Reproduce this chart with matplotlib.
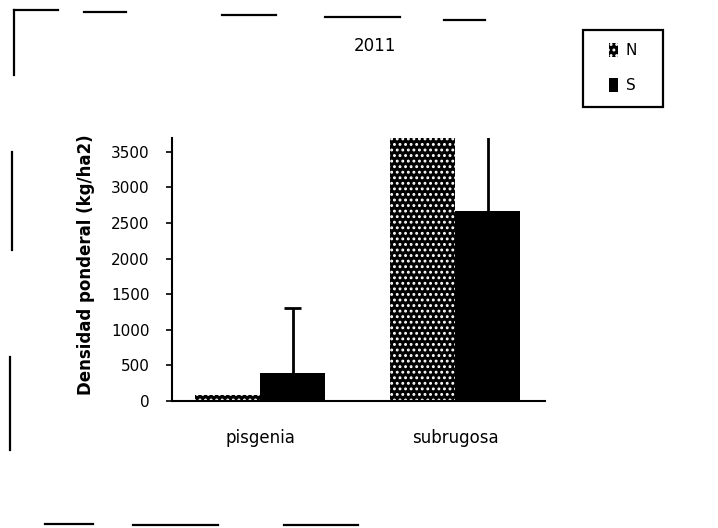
import matplotlib
matplotlib.use("Agg")
import matplotlib.pyplot as plt
from matplotlib.lines import Line2D
from matplotlib.patches import Rectangle
import numpy as np

plt.rcParams['font.family'] = ['DejaVu Sans']
plt.rcParams['hatch.linewidth'] = 1.3

categories = ["pisgenia", "subrugosa"]
series_names = ["N", "S"]
values_N = [80, 3690]
values_S = [390, 2670]
err_S = [915, 1060]
yticks = [0, 500, 1000, 1500, 2000, 2500, 3000, 3500]
title = "2011"
ylabel = "Densidad ponderal (kg/ha2)"

fig = plt.figure(figsize=(7.18, 5.28), dpi=100)
W, H = 718, 528
ax = fig.add_axes([172 / W, 1 - 401 / H, (545 - 172) / W, (401 - 137.5) / H])

x = np.arange(len(categories))
w = 0.333
ax.bar(x - w / 2, values_N, w, color='black', edgecolor='white', hatch='...',
       linewidth=0, label=series_names[0])
ax.bar(x + w / 2, values_S, w, color='black', linewidth=0, label=series_names[1])
tops = np.array(values_S) + np.array(err_S)
ax.vlines(x + w / 2, values_S, tops, color='black', linewidth=2)
ax.hlines(tops, x + w / 2 - 0.045, x + w / 2 + 0.045, color='black', linewidth=2)

ax.set_xlim(-0.451, 1.46)
ax.set_ylim(0, 3700)
ax.set_yticks(yticks)
ax.set_yticklabels([str(v) for v in yticks], fontsize=11)
ax.tick_params(axis='y', length=4, width=1.2, direction='out', pad=12)
ax.set_xticks(x)
ax.set_xticklabels(categories, fontsize=12)
ax.tick_params(axis='x', length=0, pad=20)
for s in ['top', 'right']:
    ax.spines[s].set_visible(False)
ax.spines['left'].set_linewidth(1.5)
ax.spines['bottom'].set_linewidth(1.5)

fig.text(86 / W, 1 - 265 / H, ylabel, rotation=90, ha='center', va='center',
         fontsize=12, fontweight='bold')
fig.text(375 / W, 1 - 46 / H, title, ha='center', va='center', fontsize=12)

leg = fig.legend(loc='center', bbox_to_anchor=(623 / W, 1 - 68 / H), fontsize=11,
                 frameon=False, handlelength=0.6, handleheight=1.0, labelspacing=1.3,
                 handletextpad=0.5, borderpad=0, borderaxespad=0)
fig.add_artist(Rectangle((583 / W, 1 - 107 / H), 80 / W, 77 / H, fill=False,
                         edgecolor='black', linewidth=1.6, transform=fig.transFigure))

# scanned frame fragments
segs = [((14, 14), (10, 75)), ((14, 58), (10, 10)), ((84, 126), (12, 12)),
        ((222, 276), (15, 15)), ((325, 400), (17, 17)), ((444, 485), (20, 20)),
        ((12, 12), (152, 250)), ((10, 10), (357, 450)),
        ((45, 93), (524, 524)), ((133, 218), (525, 525)), ((284, 358), (525, 525))]
for (x0, x1), (y0, y1) in segs:
    fig.add_artist(Line2D([x0 / W, x1 / W], [1 - y0 / H, 1 - y1 / H], color='black',
                          linewidth=1.6, transform=fig.transFigure))

fig.savefig("out.png", dpi=100)
